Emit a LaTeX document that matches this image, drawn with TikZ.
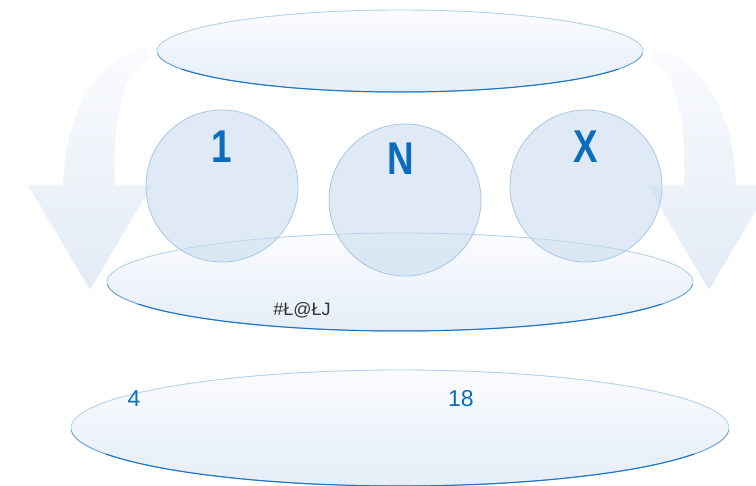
\documentclass[tikz,border=0pt]{standalone}
\usepackage{fontspec}
\setmainfont{Liberation Sans}
\newfontfamily\bigfont[FakeStretch=0.8]{Liberation Sans}
\usetikzlibrary{shapes.geometric}
\definecolor{txtblue}{HTML}{0A6EBD}
\definecolor{lightedge}{HTML}{B3D1EC}
\definecolor{midedge}{HTML}{6FA6D9}
\definecolor{darkedge}{HTML}{1A76C4}
\definecolor{elltop}{HTML}{FBFCFE}
\definecolor{ellbot}{HTML}{E5EDF8}
\definecolor{circfill}{HTML}{C6D9EE}
\definecolor{circedge}{HTML}{A6C8E5}
\definecolor{arrtop}{HTML}{FAFBFD}
\definecolor{arrbot}{HTML}{E3EBF6}
\definecolor{graytxt}{HTML}{333333}
\tikzset{
  ellnode/.style={ellipse, draw=lightedge, line width=0.9pt, top color=elltop, bottom color=ellbot, inner sep=0pt},
  midline/.style={draw=midedge, line width=0.9pt},
  darkline/.style={draw=darkedge, line width=1pt},
  circnode/.style={circle, draw=circedge, line width=0.8pt, fill=circfill, fill opacity=0.55, draw opacity=1, inner sep=0pt, minimum size=152pt},
  bigtxt/.style={text=txtblue, font=\fontsize{46}{46}\selectfont\bigfont\bfseries, inner sep=0pt},
  numtxt/.style={text=txtblue, font=\fontsize{23}{23}\selectfont, inner sep=0pt, anchor=base},
  graylbl/.style={text=graytxt, font=\fontsize{18}{18}\selectfont, inner sep=0pt, anchor=base},
  bigarrow/.style={top color=arrtop, bottom color=arrbot, draw=none, rounded corners=2pt}
}
\newcommand{\ellborder}[4]{% node name, rx, ry
  \begin{scope}
    \clip ([yshift=-0.05*#3]#1.center) ++(-#2-2pt,0) rectangle ++(2*#2+4pt,-#3-4pt);
    \draw[midline] (#1.center) ellipse[x radius=#2, y radius=#3];
  \end{scope}
  \begin{scope}
    \clip ([yshift=-0.45*#3]#1.center) ++(-#2-2pt,0) rectangle ++(2*#2+4pt,-#3-4pt);
    \draw[darkline] (#1.center) ellipse[x radius=#2, y radius=#3];
  \end{scope}
}
\begin{document}
\begin{tikzpicture}[x=1pt, y=-1pt]
\useasboundingbox (0,0) rectangle (756,486);
\clip (0,0) rectangle (756,486);
% curved arrows
\path[bigarrow] (147,47) .. controls (92,60) and (65,120) .. (63,185)
  -- (28,185) -- (90,290) -- (152,185) -- (115,185)
  .. controls (113,125) and (120,78) .. (147,60) -- cycle;
\begin{scope}[xshift=799pt, xscale=-1]
\path[bigarrow] (147,47) .. controls (92,60) and (65,120) .. (63,185)
  -- (28,185) -- (90,290) -- (152,185) -- (115,185)
  .. controls (113,125) and (120,78) .. (147,60) -- cycle;
\end{scope}
% top ellipse
\node[ellnode, minimum width=486pt, minimum height=82pt] (topell) at (400,51) {};
\ellborder{topell}{243pt}{41pt}{}
% middle ellipse
\node[ellnode, minimum width=586pt, minimum height=98pt] (midell) at (400,282) {};
\ellborder{midell}{293pt}{49pt}{}
% bottom ellipse
\node[ellnode, minimum width=658pt, minimum height=116pt] (botell) at (400,428) {};
\ellborder{botell}{329pt}{58pt}{}
% circles
\node[circnode] (c1) at (222,186) {};
\node[circnode] (c2) at (405,200) {};
\node[circnode] (c3) at (586,186) {};
% labels
\node[bigtxt] (l1) at (222,147) {1};
\node[bigtxt] (l2) at (401,159) {N};
\node[bigtxt] (l3) at (586,147) {X};
\node[graylbl] (g1) at (302,316) {\#Ł@ŁJ};
\node[numtxt] (n4) at (134,407) {4};
\node[numtxt] (n18) at (461,407) {18};
\end{tikzpicture}
\end{document}
